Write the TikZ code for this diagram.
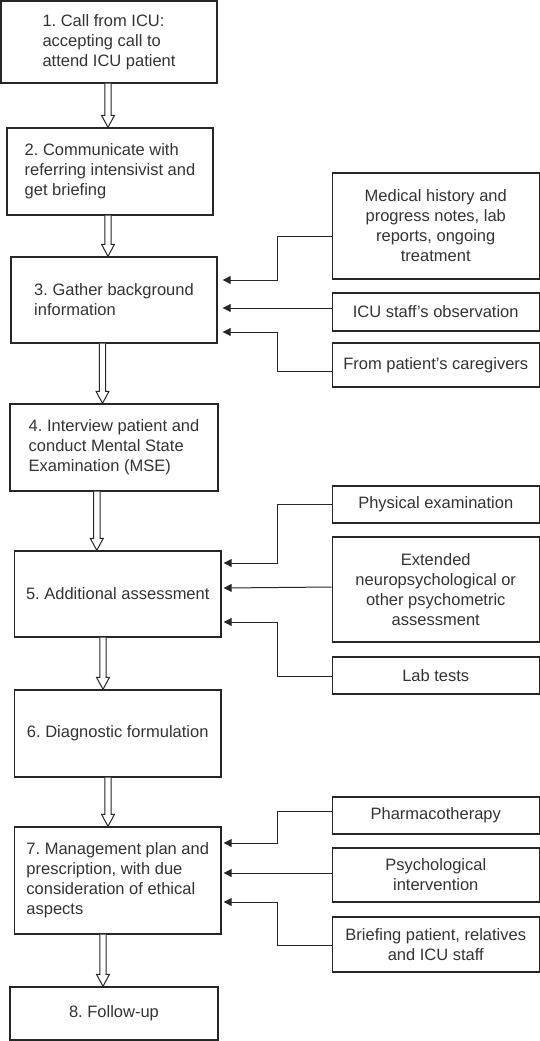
\documentclass[tikz,border=0pt]{standalone}
\usepackage{fontspec}
\setmainfont{Liberation Sans}
\usetikzlibrary{calc,arrows.meta}
\frenchspacing
\definecolor{ink}{HTML}{262626}
\definecolor{txt}{HTML}{333333}
\tikzset{
  every node/.style={font=\fontsize{16.5}{20}\selectfont, text=txt},
  mainbox/.style={draw=ink, line width=1.4pt, rectangle, inner sep=0pt, align=left},
  sidebox/.style={draw=ink, line width=1.4pt, rectangle, inner sep=0pt, align=center, minimum width=207pt},
  conn/.style={draw=ink, line width=1pt, -{Triangle[length=8pt,width=8pt]}},
  harrow/.style={draw=ink, line width=1pt, fill=white}
}
\newcommand\hollowarr[3]{%
  \draw[harrow] let \p1=(#2.south), \p2=(#3.north) in
   (#1pt-3.2pt,\y1) -- (#1pt-3.2pt,\y2+12pt) -- (#1pt-6.5pt,\y2+12pt) -- (#1pt,\y2)
   -- (#1pt+6.5pt,\y2+12pt) -- (#1pt+3.2pt,\y2+12pt) -- (#1pt+3.2pt,\y1);}
\begin{document}
\begin{tikzpicture}[x=1pt,y=-1pt]
\useasboundingbox (0,0) rectangle (540,1041);
% main column
\node[mainbox, minimum width=216pt, minimum height=82pt] (b1) at (109,42) {1. Call from ICU:\\accepting call to\\attend ICU patient};
\node[mainbox, minimum width=206pt, minimum height=87pt] (b2) at (110,171.5) {2. Communicate with\\referring intensivist and\\get briefing};
\node[mainbox, minimum width=206pt, minimum height=86pt] (b3) at (114,300) {3. Gather background\\information};
\node[mainbox, minimum width=208pt, minimum height=87pt] (b4) at (114,447.5) {4. Interview patient and\\conduct Mental State\\Examination (MSE)};
\node[mainbox, minimum width=206.5pt, minimum height=86pt] (b5) at (117.75,594) {5. Additional assessment};
\node[mainbox, minimum width=206.5pt, minimum height=87pt] (b6) at (117.75,733.5) {6. Diagnostic formulation};
\node[mainbox, minimum width=206.5pt, minimum height=107pt] (b7) at (117.75,880.5) {7. Management plan and\\prescription, with due\\consideration of ethical\\aspects};
\node[mainbox, minimum width=208pt, minimum height=53pt] (b8) at (114,1013.5) {8. Follow-up};
% side boxes
\node[sidebox, minimum height=106pt] (r1) at (435.75,226) {Medical history and\\progress notes, lab\\reports, ongoing\\treatment};
\node[sidebox, minimum height=38pt] (r2) at (435.75,312) {ICU staff's observation};
\node[sidebox, minimum height=44pt] (r3) at (435.75,365) {From patient's caregivers};
\node[sidebox, minimum height=37pt] (r4) at (435.75,504.5) {Physical examination};
\node[sidebox, minimum height=105pt] (r5) at (435.75,589.5) {Extended\\neuropsychological or\\other psychometric\\assessment};
\node[sidebox, minimum height=37pt] (r6) at (435.75,675.5) {Lab tests};
\node[sidebox, minimum height=37pt] (r7) at (435.75,815.5) {Pharmacotherapy};
\node[sidebox, minimum height=54pt] (r8) at (435.75,875) {Psychological\\intervention};
\node[sidebox, minimum height=55pt] (r9) at (435.75,944.5) {Briefing patient, relatives\\and ICU staff};
% hollow arrows
\hollowarr{108}{b1}{b2}
\hollowarr{108}{b2}{b3}
\hollowarr{102.5}{b3}{b4}
\hollowarr{96.8}{b4}{b5}
\hollowarr{103}{b5}{b6}
\hollowarr{108}{b6}{b7}
\hollowarr{103}{b7}{b8}
% connectors
\draw[conn] (r1.west |- 0,236) -- (277,236) -- (277,280) -- ([xshift=5pt]b3.east |- 0,280);
\draw[conn] (r2.west |- 0,308) -- ([xshift=5pt]b3.east |- 0,308);
\draw[conn] (r3.west |- 0,371) -- (277,371) -- (277,332) -- ([xshift=5pt]b3.east |- 0,332);
\draw[conn] (r4.west |- 0,504) -- (277,504) -- (277,563) -- ([xshift=2pt]b5.east |- 0,563);
\draw[conn] (r5.west |- 0,587) -- ([xshift=2pt]b5.east |- 0,588);
\draw[conn] (r6.west |- 0,676) -- (277,676) -- (277,622) -- ([xshift=2pt]b5.east |- 0,622);
\draw[conn] (r7.west |- 0,811) -- (277,811) -- (277,843) -- ([xshift=2pt]b7.east |- 0,843);
\draw[conn] (r8.west |- 0,873) -- ([xshift=2pt]b7.east |- 0,873);
\draw[conn] (r9.west |- 0,945) -- (277,945) -- (277,902) -- ([xshift=2pt]b7.east |- 0,902);
\end{tikzpicture}
\end{document}
